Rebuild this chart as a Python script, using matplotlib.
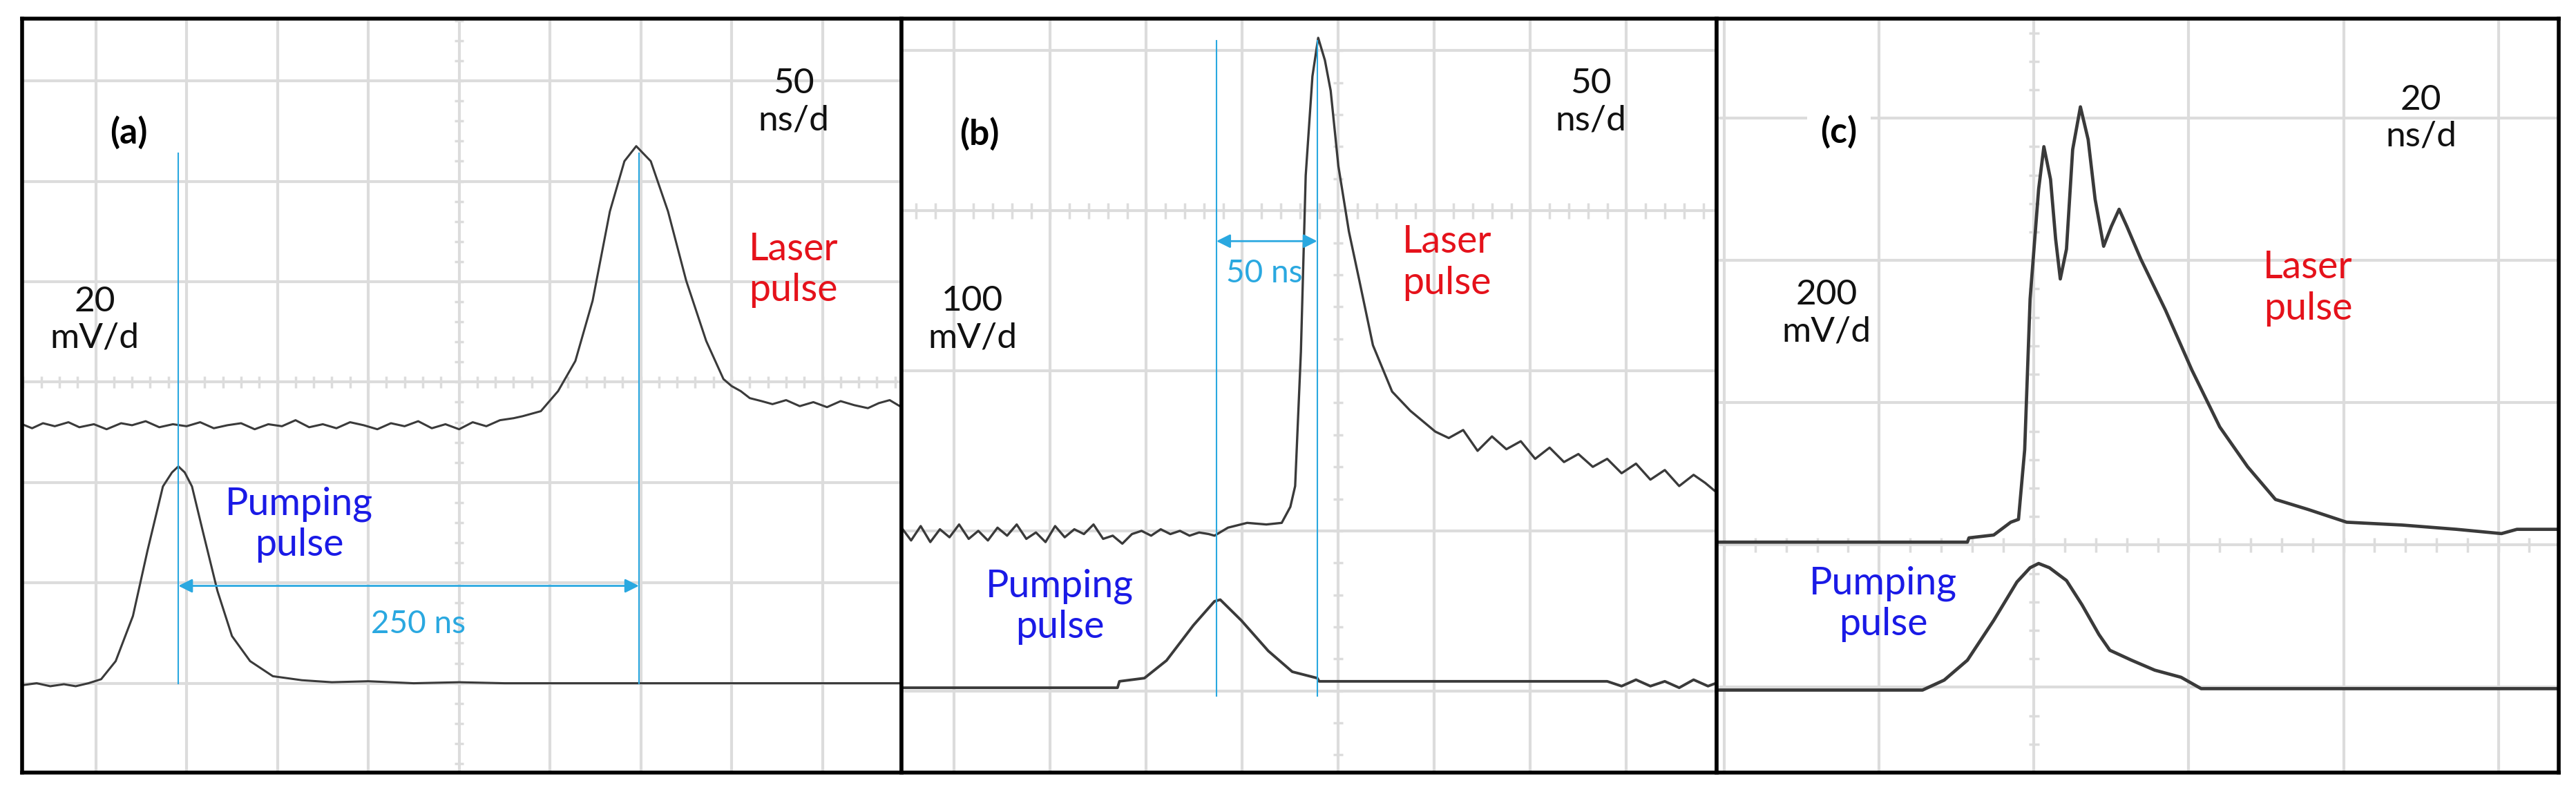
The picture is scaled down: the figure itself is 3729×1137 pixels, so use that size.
import numpy as np
import matplotlib
matplotlib.use("Agg")
import matplotlib.pyplot as plt

plt.rcParams["font.family"] = ["Lato", "DejaVu Sans"]

# ==== Messdaten (in Skalenteilen des Oszilloskops) ====

# (a) 20 mV/d, 50 ns/d
a_laser_x = [-4.81, -4.70, -4.58, -4.45, -4.30, -4.18, -4.02, -3.88, -3.72, -3.60, -3.45, -3.30,
             -3.15, -3.00, -2.85, -2.70, -2.55, -2.40, -2.25, -2.10, -1.95, -1.80, -1.65, -1.50,
             -1.35, -1.20, -1.05, -0.90, -0.75, -0.60, -0.45, -0.30, -0.15, 0.00, 0.15, 0.30,
             0.45, 0.60, 0.70, 0.90, 1.09, 1.28, 1.47, 1.66, 1.82, 1.95, 2.11, 2.30, 2.50, 2.72,
             2.91, 3.00, 3.10, 3.20, 3.33, 3.45, 3.60, 3.75, 3.90, 4.05, 4.20, 4.35, 4.50, 4.62,
             4.74, 4.87]
a_laser_y = [-0.42, -0.46, -0.41, -0.44, -0.40, -0.45, -0.42, -0.47, -0.41, -0.43, -0.39, -0.45,
             -0.42, -0.44, -0.40, -0.46, -0.43, -0.41, -0.47, -0.42, -0.44, -0.38, -0.45, -0.42,
             -0.46, -0.40, -0.43, -0.47, -0.41, -0.44, -0.39, -0.46, -0.42, -0.47, -0.40, -0.44,
             -0.38, -0.36, -0.34, -0.29, -0.09, 0.21, 0.81, 1.70, 2.20, 2.35, 2.20, 1.70, 1.01,
             0.41, 0.03, -0.04, -0.09, -0.16, -0.19, -0.22, -0.18, -0.24, -0.20, -0.25, -0.19,
             -0.23, -0.26, -0.21, -0.18, -0.25]
a_pump_x = [-4.81, -4.65, -4.50, -4.35, -4.22, -4.08, -3.94, -3.78, -3.59, -3.43, -3.26, -3.16,
            -3.09, -3.02, -2.94, -2.82, -2.66, -2.50, -2.30, -2.05, -1.73, -1.40, -1.00, -0.50,
            0.00, 0.50, 1.00, 1.98, 2.50, 3.00, 3.50, 4.00, 4.50, 4.87]
a_pump_y = [-3.02, -3.00, -3.03, -3.01, -3.03, -3.00, -2.96, -2.78, -2.33, -1.68, -1.04, -0.90,
            -0.84, -0.90, -1.04, -1.49, -2.08, -2.53, -2.78, -2.93, -2.97, -2.99, -2.98, -3.00,
            -2.99, -3.00, -3.00, -3.00, -3.00, -3.00, -3.00, -3.00, -3.00, -3.00]
a_marks = [-3.09, 1.98]
a_delay = "250 ns"

# (b) 100 mV/d, 50 ns/d
b_laser_x = [-4.55, -4.45, -4.35, -4.25, -4.15, -4.05, -3.95, -3.85, -3.75, -3.65, -3.55, -3.45,
             -3.35, -3.25, -3.15, -3.05, -2.95, -2.85, -2.75, -2.65, -2.55, -2.45, -2.35, -2.25,
             -2.15, -2.05, -1.95, -1.85, -1.75, -1.65, -1.55, -1.45, -1.35, -1.29, -1.15, -0.95,
             -0.75, -0.59, -0.50, -0.45, -0.39, -0.34, -0.27, -0.21, -0.14, -0.08, 0.00, 0.11,
             0.22, 0.36, 0.56, 0.75, 1.01, 1.15, 1.30, 1.45, 1.60, 1.75, 1.90, 2.05, 2.20, 2.35,
             2.50, 2.65, 2.80, 2.95, 3.10, 3.25, 3.40, 3.55, 3.70, 3.82, 3.94]
b_laser_y = [-1.98, -2.06, -1.97, -2.07, -1.99, -2.04, -1.96, -2.05, -2.00, -2.06, -1.98, -2.03,
             -1.96, -2.05, -2.01, -2.07, -1.97, -2.04, -1.99, -2.02, -1.96, -2.05, -2.03, -2.08,
             -2.02, -2.00, -2.03, -1.99, -2.02, -2.00, -2.03, -2.01, -2.02, -2.03, -1.98, -1.95,
             -1.96, -1.95, -1.85, -1.72, -0.88, 0.22, 0.84, 1.08, 0.94, 0.75, 0.28, -0.13,
             -0.44, -0.84, -1.13, -1.25, -1.38, -1.42, -1.37, -1.50, -1.41, -1.49, -1.44, -1.55,
             -1.48, -1.57, -1.52, -1.60, -1.55, -1.64, -1.58, -1.68, -1.62, -1.72, -1.65, -1.70,
             -1.76]
b_pump_x = [-4.55, -3.50, -2.50, -2.30, -2.28, -2.02, -1.79, -1.51, -1.29, -1.23, -1.01, -0.73,
            -0.48, -0.22, -0.20, 0.50, 1.50, 2.50, 2.80, 2.95, 3.10, 3.25, 3.40, 3.55, 3.70,
            3.85, 3.94]
b_pump_y = [-2.98, -2.98, -2.98, -2.98, -2.94, -2.92, -2.81, -2.59, -2.44, -2.43, -2.56, -2.75,
            -2.88, -2.92, -2.94, -2.94, -2.94, -2.94, -2.94, -2.97, -2.93, -2.97, -2.94, -2.98,
            -2.93, -2.97, -2.95]
b_marks = [-1.27, -0.22]
b_delay = "50 ns"

# (c) 200 mV/d, 20 ns/d
c_laser_x = [-2.05, -0.43, -0.42, -0.26, -0.15, -0.10, -0.06, -0.025, 0.03, 0.064, 0.107, 0.14,
             0.17, 0.21, 0.25, 0.30, 0.35, 0.395, 0.45, 0.50, 0.55, 0.60, 0.69, 0.85, 1.02, 1.20,
             1.38, 1.56, 1.77, 2.02, 2.38, 2.73, 3.02, 3.12, 3.39]
c_laser_y = [0.02, 0.02, 0.05, 0.07, 0.16, 0.18, 0.67, 1.73, 2.50, 2.80, 2.57, 2.15,
             1.87, 2.08, 2.78, 3.08, 2.85, 2.43, 2.10, 2.24, 2.36, 2.24, 2.01, 1.65, 1.23, 0.83,
             0.55, 0.32, 0.25, 0.16, 0.14, 0.11, 0.08, 0.11, 0.11]
c_pump_x = [-2.05, -0.72, -0.58, -0.43, -0.26, -0.11, -0.025, 0.03, 0.10, 0.21, 0.31, 0.42,
            0.49, 0.63, 0.78, 0.95, 1.08, 3.39]
c_pump_y = [-1.02, -1.02, -0.95, -0.81, -0.53, -0.26, -0.16, -0.13, -0.16, -0.25, -0.42, -0.63,
            -0.74, -0.81, -0.88, -0.93, -1.01, -1.01]

panel_tags = ["(a)", "(b)", "(c)"]
time_scales = ["50\nns/d", "50\nns/d", "20\nns/d"]
volt_scales = ["20\nmV/d", "100\nmV/d", "200\nmV/d"]

W, H = 3729, 1137
GRID = "#dcdcdc"
TRACE = "#3a3a3a"
CYAN = "#2aa8e0"
RED = "#e5121b"
BLUE = "#1a1ae6"

fig = plt.figure(figsize=(W / 100, H / 100), dpi=100)
fig.patch.set_facecolor("white")


def make_axes(px_left, px_right, xlim, ylim, xgrid, ygrid):
    ax = fig.add_axes([px_left / W, (H - 1119) / H, (px_right - px_left) / W, 1092 / H])
    ax.set_xlim(*xlim)
    ax.set_ylim(*ylim)
    ax.set_xticks(xgrid)
    ax.set_yticks(ygrid)
    ax.tick_params(length=0, labelbottom=False, labelleft=False)
    ax.grid(True, color=GRID, lw=3.0, zorder=0)
    ax.set_axisbelow(True)
    for s in ax.spines.values():
        s.set_color("black")
        s.set_linewidth(4.0)
        s.set_zorder(10)
    return ax


def center_ticks(ax, xlim, ylim, hx, hy):
    # kleine Teilstriche auf den Mittelachsen
    for t in np.arange(np.ceil(xlim[0] / 0.2) * 0.2, xlim[1], 0.2):
        ax.plot([t, t], [-hy, hy], color=GRID, lw=2.5, zorder=1, solid_capstyle="butt")
    for t in np.arange(np.ceil(ylim[0] / 0.2) * 0.2, ylim[1], 0.2):
        ax.plot([-hx, hx], [t, t], color=GRID, lw=2.5, zorder=1, solid_capstyle="butt")


def delay_marker(ax, marks, y0, y1, y_arrow, label, lx, ly):
    for m in marks:
        ax.plot([m, m], [y0, y1], color=CYAN, lw=1.5, zorder=3)
    ax.annotate("", xy=(marks[1], y_arrow), xytext=(marks[0], y_arrow),
                arrowprops=dict(arrowstyle="<|-|>", color=CYAN, lw=2.0,
                                mutation_scale=30, shrinkA=0, shrinkB=0), zorder=4)
    ax.text(lx, ly, label, color=CYAN, fontsize=33, ha="center", va="center", zorder=5)


def labels(ax, i, tag_xy, ts_xy, vs_xy, laser_xy, pump_xy, tag_box=False):
    kw = dict(ha="center", va="center", multialignment="center", zorder=6)
    bbox = dict(facecolor="white", edgecolor="none", pad=14) if tag_box else None
    ax.text(*tag_xy, panel_tags[i], fontsize=37, fontweight="bold", bbox=bbox, **kw)
    ax.text(*ts_xy, time_scales[i], fontsize=37, color="#111111", **kw)
    ax.text(*vs_xy, volt_scales[i], fontsize=37, color="#111111", **kw)
    ax.text(*laser_xy, "Laser\npulse", fontsize=40, color=RED, **kw)
    ax.text(*pump_xy, "Pumping\npulse", fontsize=40, color=BLUE, **kw)


# ==== Panel (a) ====
xl, yl = (-4.81, 4.87), (-3.89, 3.62)
ax = make_axes(32, 1305, xl, yl, range(-4, 5), range(-3, 4))
center_ticks(ax, xl, yl, 0.05, 0.06)
ax.plot(a_laser_x, a_laser_y, color=TRACE, lw=2.2, zorder=2)
ax.plot(a_pump_x, a_pump_y, color=TRACE, lw=2.2, zorder=2)
delay_marker(ax, a_marks, -3.0, 2.28, -2.03, a_delay, -0.45, -2.41)
labels(ax, 0, (-3.64, 2.48), (3.68, 2.79), (-4.01, 0.62), (3.68, 1.115), (-1.76, -1.42))

# ==== Panel (b) ====
xl, yl = (-4.55, 3.94), (-3.51, 1.20)
ax = make_axes(1305, 2485, xl, yl, range(-4, 4), range(-3, 2))
center_ticks(ax, xl, yl, 0.05, 0.05)
ax.plot(b_laser_x, b_laser_y, color=TRACE, lw=2.4, zorder=2)
ax.plot(b_pump_x, b_pump_y, color=TRACE, lw=2.8, zorder=2)
delay_marker(ax, b_marks, -3.03, 1.06, -0.19, b_delay, -0.77, -0.39)
labels(ax, 1, (-3.74, 0.48), (2.63, 0.68), (-3.81, -0.68), (1.13, -0.325), (-2.9, -2.475))

# ==== Panel (c) ====
xl, yl = (-2.05, 3.39), (-1.60, 3.70)
ax = make_axes(2485, 3704, xl, yl, range(-2, 4), range(-1, 4))
center_ticks(ax, xl, yl, 0.035, 0.05)
ax.plot(c_laser_x, c_laser_y, color=TRACE, lw=3.4, zorder=2)
ax.plot(c_pump_x, c_pump_y, color=TRACE, lw=3.4, zorder=2)
labels(ax, 2, (-1.26, 2.90), (2.50, 3.0), (-1.34, 1.63), (1.77, 1.805), (-0.975, -0.415),
       tag_box=True)

fig.savefig("out.png", dpi=100, facecolor="white")
